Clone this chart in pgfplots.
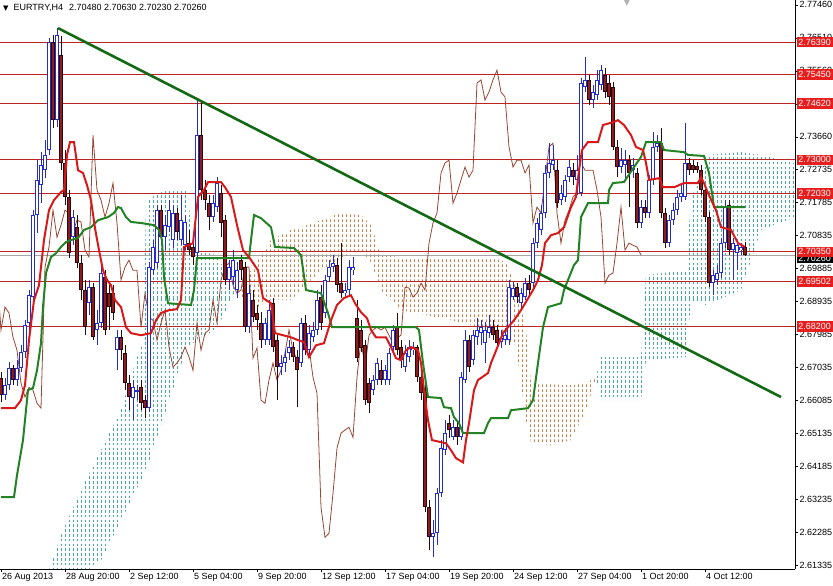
\documentclass[border=0pt]{standalone}
\usepackage{fontspec}
\setmainfont{Liberation Sans}
\newfontfamily\dejavu{DejaVu Sans}
\usepackage{pgfplots}
\pgfplotsset{compat=1.18}
\usepackage{pgfplotstable}
\usetikzlibrary{patterns.meta}

\definecolor{bull}{RGB}{35,45,200}
\definecolor{bearedge}{RGB}{45,8,8}
\definecolor{bearfill}{RGB}{140,28,32}
\definecolor{tenkan}{RGB}{215,25,25}
\definecolor{kijun}{RGB}{35,130,35}
\definecolor{chikou}{RGB}{150,70,50}
\definecolor{kteal}{RGB}{70,170,160}
\definecolor{korange}{RGB}{205,125,65}
\definecolor{lvl}{RGB}{190,35,35}
\definecolor{labred}{RGB}{230,30,30}
\definecolor{trend}{RGB}{20,105,20}

\tikzdeclarepattern{name=kumoorange, type=colored,
  bounding box={(0,0) and (3.5pt,4.8pt)}, tile size={(3.5pt,4.8pt)},
  code={\fill[korange] (0,0) rectangle (1pt,2.6pt);}}

\pgfplotstableread{
i o h l c
0 2.6671 2.6689 2.6602 2.6622
1 2.6622 2.6671 2.6608 2.6651
2 2.6651 2.6717 2.6637 2.6700
3 2.6700 2.6709 2.6651 2.6666
4 2.6666 2.6723 2.6648 2.6700
5 2.6700 2.6766 2.6689 2.6746
6 2.6746 2.6838 2.6729 2.6824
7 2.6830 2.6925 2.6810 2.6910
8 2.6905 2.7155 2.6896 2.7141
9 2.7141 2.7299 2.7089 2.7242
10 2.7227 2.7322 2.7175 2.7285
11 2.7270 2.7357 2.7247 2.7314
12 2.7328 2.7651 2.7314 2.7639
13 2.7639 2.7659 2.7391 2.7414
14 2.7414 2.7679 2.7394 2.7659
15 2.7602 2.7656 2.7270 2.7291
16 2.7291 2.7328 2.7170 2.7193
17 2.7193 2.7213 2.7017 2.7031
18 2.7077 2.7155 2.7054 2.7135
19 2.7106 2.7141 2.6988 2.7003
20 2.7003 2.7026 2.6896 2.6925
21 2.6925 2.6954 2.6795 2.6818
22 2.6887 2.6954 2.6853 2.6933
23 2.6933 2.6945 2.6781 2.6789
24 2.6810 2.6867 2.6766 2.6830
25 2.6830 2.6997 2.6815 2.6974
26 2.6962 2.6982 2.6795 2.6810
27 2.6916 2.6939 2.6810 2.6876
28 2.6916 2.6939 2.6838 2.6859
29 2.6752 2.6810 2.6694 2.6789
30 2.6789 2.6810 2.6723 2.6752
31 2.6743 2.6766 2.6637 2.6657
32 2.6657 2.6680 2.6579 2.6617
33 2.6614 2.6666 2.6550 2.6645
34 2.6631 2.6651 2.6608 2.6637
35 2.6645 2.6666 2.6579 2.6599
36 2.6608 2.6622 2.6556 2.6585
37 2.6585 2.7005 2.6573 2.6991
38 2.6982 2.7069 2.6968 2.7049
39 2.7003 2.7170 2.6988 2.7155
40 2.7155 2.7170 2.7054 2.7077
41 2.7077 2.7141 2.7040 2.7112
42 2.7106 2.7184 2.7092 2.7155
43 2.7069 2.7170 2.7046 2.7147
44 2.7147 2.7161 2.7069 2.7092
45 2.7069 2.7198 2.7054 2.7126
46 2.7054 2.7141 2.7040 2.7121
47 2.7060 2.7098 2.7026 2.7040
48 2.7049 2.7069 2.6997 2.7020
49 2.7031 2.7478 2.7017 2.7371
50 2.7371 2.7472 2.7184 2.7213
51 2.7213 2.7242 2.7155 2.7184
52 2.7175 2.7198 2.7098 2.7135
53 2.7135 2.7198 2.7121 2.7175
54 2.7164 2.7250 2.7149 2.7233
55 2.7204 2.7227 2.7077 2.7118
56 2.7126 2.7141 2.6939 2.6954
57 2.6954 2.7011 2.6925 2.6991
58 2.6962 2.7040 2.6939 2.7011
59 2.6925 2.7005 2.6902 2.6982
60 2.7011 2.7026 2.6954 2.6982
61 2.6991 2.7005 2.6804 2.6818
62 2.6818 2.6939 2.6801 2.6916
63 2.6896 2.6925 2.6833 2.6847
64 2.6859 2.6882 2.6810 2.6838
65 2.6830 2.6861 2.6758 2.6781
66 2.6781 2.6844 2.6766 2.6830
67 2.6781 2.6896 2.6766 2.6867
68 2.6887 2.6902 2.6746 2.6761
69 2.6781 2.6795 2.6608 2.6703
70 2.6703 2.6738 2.6680 2.6715
71 2.6715 2.6752 2.6689 2.6732
72 2.6743 2.6781 2.6723 2.6761
73 2.6761 2.6775 2.6717 2.6732
74 2.6732 2.6752 2.6588 2.6694
75 2.6715 2.6844 2.6703 2.6830
76 2.6830 2.6853 2.6738 2.6752
77 2.6752 2.6824 2.6738 2.6801
78 2.6789 2.6833 2.6775 2.6810
79 2.6810 2.6925 2.6795 2.6896
80 2.6905 2.6939 2.6810 2.6830
81 2.6859 2.6968 2.6844 2.6954
82 2.6962 2.7011 2.6948 2.6991
83 2.6991 2.7026 2.6977 2.7003
84 2.6997 2.7017 2.6919 2.6939
85 2.6945 2.7060 2.6902 2.6916
86 2.6916 2.6945 2.6902 2.6925
87 2.6925 2.7011 2.6910 2.6991
88 2.6982 2.7020 2.6968 2.6991
89 2.6844 2.6896 2.6717 2.6729
90 2.6810 2.6838 2.6746 2.6758
91 2.6766 2.6781 2.6594 2.6608
92 2.6657 2.6671 2.6571 2.6599
93 2.6637 2.6680 2.6622 2.6666
94 2.6666 2.6729 2.6651 2.6715
95 2.6694 2.6723 2.6651 2.6666
96 2.6666 2.6709 2.6651 2.6694
97 2.6666 2.6758 2.6651 2.6743
98 2.6761 2.6824 2.6746 2.6810
99 2.6818 2.6859 2.6738 2.6752
100 2.6761 2.6781 2.6700 2.6723
101 2.6703 2.6766 2.6689 2.6743
102 2.6732 2.6781 2.6717 2.6761
103 2.6752 2.6775 2.6738 2.6761
104 2.6761 2.6766 2.6660 2.6674
105 2.6674 2.6694 2.6608 2.6628
106 2.6637 2.6651 2.6285 2.6300
107 2.6300 2.6320 2.6176 2.6213
108 2.6213 2.6262 2.6156 2.6225
109 2.6225 2.6355 2.6190 2.6340
110 2.6340 2.6493 2.6329 2.6470
111 2.6464 2.6550 2.6450 2.6513
112 2.6542 2.6565 2.6499 2.6522
113 2.6501 2.6550 2.6493 2.6530
114 2.6530 2.6550 2.6478 2.6501
115 2.6501 2.6689 2.6493 2.6674
116 2.6666 2.6810 2.6657 2.6781
117 2.6781 2.6795 2.6689 2.6703
118 2.6723 2.6810 2.6709 2.6795
119 2.6789 2.6844 2.6766 2.6810
120 2.6801 2.6838 2.6766 2.6818
121 2.6772 2.6833 2.6715 2.6810
122 2.6801 2.6853 2.6787 2.6818
123 2.6818 2.6838 2.6781 2.6795
124 2.6810 2.6824 2.6758 2.6772
125 2.6775 2.6810 2.6758 2.6787
126 2.6781 2.6815 2.6766 2.6795
127 2.6781 2.6954 2.6766 2.6933
128 2.6905 2.6948 2.6896 2.6931
129 2.6933 2.6945 2.6887 2.6905
130 2.6887 2.6931 2.6873 2.6916
131 2.6905 2.6959 2.6896 2.6945
132 2.6945 2.6968 2.6910 2.6925
133 2.6945 2.7075 2.6931 2.7060
134 2.7060 2.7132 2.7046 2.7118
135 2.7098 2.7170 2.7083 2.7147
136 2.7147 2.7285 2.7132 2.7262
137 2.7262 2.7348 2.7247 2.7291
138 2.7285 2.7342 2.7270 2.7299
139 2.7270 2.7299 2.7161 2.7175
140 2.7184 2.7227 2.7170 2.7204
141 2.7193 2.7256 2.7178 2.7242
142 2.7250 2.7299 2.7236 2.7279
143 2.7270 2.7291 2.7227 2.7250
144 2.7242 2.7314 2.7198 2.7270
145 2.7204 2.7535 2.7196 2.7521
146 2.7509 2.7596 2.7495 2.7530
147 2.7530 2.7544 2.7458 2.7472
148 2.7472 2.7515 2.7449 2.7495
149 2.7486 2.7558 2.7472 2.7530
150 2.7515 2.7573 2.7501 2.7558
151 2.7544 2.7564 2.7478 2.7495
152 2.7521 2.7544 2.7458 2.7481
153 2.7509 2.7524 2.7328 2.7337
154 2.7337 2.7357 2.7250 2.7279
155 2.7279 2.7334 2.7262 2.7299
156 2.7285 2.7328 2.7242 2.7299
157 2.7299 2.7314 2.7164 2.7262
158 2.7270 2.7305 2.7247 2.7285
159 2.7262 2.7276 2.7103 2.7118
160 2.7118 2.7184 2.7103 2.7164
161 2.7164 2.7184 2.7132 2.7147
162 2.7147 2.7256 2.7132 2.7242
163 2.7242 2.7380 2.7227 2.7337
164 2.7337 2.7371 2.7322 2.7348
165 2.7348 2.7391 2.7132 2.7147
166 2.7147 2.7161 2.7046 2.7060
167 2.7060 2.7141 2.7049 2.7126
168 2.7126 2.7175 2.7112 2.7155
169 2.7155 2.7213 2.7141 2.7193
170 2.7193 2.7227 2.7178 2.7204
171 2.7193 2.7406 2.7184 2.7291
172 2.7291 2.7305 2.7256 2.7270
173 2.7285 2.7299 2.7262 2.7270
174 2.7282 2.7293 2.7262 2.7270
175 2.7270 2.7285 2.7198 2.7213
176 2.7213 2.7227 2.7121 2.7135
177 2.7135 2.7149 2.6933 2.6945
178 2.6945 2.6982 2.6910 2.6968
179 2.6954 2.6997 2.6939 2.6974
180 2.6974 2.7075 2.6959 2.7060
181 2.7060 2.7184 2.7046 2.7164
182 2.7170 2.7184 2.7026 2.7040
183 2.7040 2.7075 2.6954 2.7060
184 2.7031 2.7063 2.6982 2.7054
185 2.7040 2.7060 2.7026 2.7049
186 2.7048 2.7063 2.7023 2.7026
}\candles

\pgfplotsset{
  candlebar/.style={forget plot, draw=none, mark=none,
    error bars/.cd, y dir=both, y explicit, error mark=none},
  lvline/.style={forget plot, lvl, line width=0.8pt},
}

\begin{document}
\begin{tikzpicture}[font=\fontsize{9}{10}\selectfont]
\begin{axis}[name=main, at={(0,0)}, anchor=south west,
  scale only axis, width=795pt, height=569pt,
  xmin=-0.25, xmax=198.5, ymin=2.6122, ymax=2.7760,
  axis x line*=bottom, axis y line*=right,
  axis line style={black, line width=0.8pt},
  tick align=outside, major tick length=3pt,
  tick style={black, line width=0.6pt},
  xtick={0,16,...,176},
  xticklabels={26 Aug 2013, 28 Aug 20:00, 2 Sep 12:00, 5 Sep 04:00, 9 Sep 20:00, 12 Sep 12:00, 17 Sep 04:00, 19 Sep 20:00, 24 Sep 12:00, 27 Sep 04:00, 1 Oct 20:00, 4 Oct 12:00},
  xticklabel style={anchor=north west, inner xsep=1pt, inner ysep=1.5pt, font=\fontsize{9}{10}\selectfont},
  ytick={2.61335,2.62285,2.63235,2.64185,2.65135,2.66085,2.67035,2.67985,2.68935,2.69885,2.70835,2.71785,2.72735,2.73660,2.74610,2.75560,2.76510,2.77460},
  yticklabels={2.61335,2.62285,2.63235,2.64185,2.65135,2.66085,2.67035,2.67985,2.68935,2.69885,2.70835,2.71785,2.72735,2.73660,2.74610,2.75560,2.76510,2.77460},
  yticklabel style={anchor=west, inner xsep=1.5pt, font=\fontsize{9}{10}\selectfont},
  clip=true]

% Kumo cloud, bearish part
\addplot[forget plot, draw=none, pattern=kumoorange] coordinates {(59,2.6925) (62.5,2.6982) (67.5,2.7069) (72.5,2.7098) (75,2.7106) (80,2.7126) (85,2.7147) (90,2.7141) (92.5,2.7112) (95,2.7026) (100,2.7020) (122.5,2.7020) (126.25,2.7005) (128.75,2.6939) (131.25,2.6810) (132.5,2.6657) (142.5,2.6651) (146.25,2.6657) (148.75,2.6674) (146.25,2.6579) (142.5,2.6493) (137.5,2.6478) (132.5,2.6487) (131.25,2.6550) (128.75,2.6766) (126.25,2.6781) (122.5,2.6810) (112.5,2.6838) (100,2.6867) (95,2.6925) (92.5,2.7005) (90,2.7040) (85,2.7017) (80,2.6982) (75,2.6925) (72.5,2.6896) (67.5,2.6896) (62.5,2.6867)};

% Kumo cloud, bullish part: dotted columns clipped to the cloud outline
\begin{scope}
\clip (axis cs:12,2.6118) -- (axis cs:15,2.6219) -- (axis cs:20,2.6349) -- (axis cs:25,2.6464) -- (axis cs:30,2.6579) -- (axis cs:33.75,2.6723) -- (axis cs:35.75,2.6781) -- (axis cs:36.25,2.7184) -- (axis cs:41.25,2.7213) -- (axis cs:46.25,2.7213) -- (axis cs:48.75,2.7040) -- (axis cs:53.75,2.7026) -- (axis cs:57.5,2.6954) -- (axis cs:59,2.6925) -- (axis cs:57.5,2.6896) -- (axis cs:53.75,2.6810) -- (axis cs:48.75,2.6781) -- (axis cs:46.25,2.6752) -- (axis cs:41.25,2.6579) -- (axis cs:36.25,2.6406) -- (axis cs:33.75,2.6349) -- (axis cs:30,2.6262) -- (axis cs:25,2.6147) -- (axis cs:20,2.6104) -- (axis cs:15,2.6104) -- cycle
  (axis cs:148.75,2.6674) -- (axis cs:150,2.6732) -- (axis cs:160,2.6732) -- (axis cs:161.25,2.6968) -- (axis cs:171.25,2.6982) -- (axis cs:172.5,2.7184) -- (axis cs:176.25,2.7314) -- (axis cs:185,2.7322) -- (axis cs:190,2.7314) -- (axis cs:200,2.7285) -- (axis cs:200,2.7141) -- (axis cs:190,2.7098) -- (axis cs:185,2.6925) -- (axis cs:176.25,2.6882) -- (axis cs:172.5,2.6896) -- (axis cs:171.25,2.6732) -- (axis cs:161.25,2.6723) -- (axis cs:160,2.6608) -- (axis cs:150,2.6608) -- cycle;
\addplot[forget plot, draw=none, mark=none, error bars/.cd, y dir=both, y explicit, error mark=none,
  error bar style={line width=1pt, color=kteal, dash pattern=on 2.6pt off 2.2pt}]
  table[x=x, y=y, y error=e] {
x y e
12 2.69 0.1
13 2.69 0.1
14 2.69 0.1
15 2.69 0.1
16 2.69 0.1
17 2.69 0.1
18 2.69 0.1
19 2.69 0.1
20 2.69 0.1
21 2.69 0.1
22 2.69 0.1
23 2.69 0.1
24 2.69 0.1
25 2.69 0.1
26 2.69 0.1
27 2.69 0.1
28 2.69 0.1
29 2.69 0.1
30 2.69 0.1
31 2.69 0.1
32 2.69 0.1
33 2.69 0.1
34 2.69 0.1
35 2.69 0.1
36 2.69 0.1
37 2.69 0.1
38 2.69 0.1
39 2.69 0.1
40 2.69 0.1
41 2.69 0.1
42 2.69 0.1
43 2.69 0.1
44 2.69 0.1
45 2.69 0.1
46 2.69 0.1
47 2.69 0.1
48 2.69 0.1
49 2.69 0.1
50 2.69 0.1
51 2.69 0.1
52 2.69 0.1
53 2.69 0.1
54 2.69 0.1
55 2.69 0.1
56 2.69 0.1
57 2.69 0.1
58 2.69 0.1
149 2.69 0.1
150 2.69 0.1
151 2.69 0.1
152 2.69 0.1
153 2.69 0.1
154 2.69 0.1
155 2.69 0.1
156 2.69 0.1
157 2.69 0.1
158 2.69 0.1
159 2.69 0.1
160 2.69 0.1
161 2.69 0.1
162 2.69 0.1
163 2.69 0.1
164 2.69 0.1
165 2.69 0.1
166 2.69 0.1
167 2.69 0.1
168 2.69 0.1
169 2.69 0.1
170 2.69 0.1
171 2.69 0.1
172 2.69 0.1
173 2.69 0.1
174 2.69 0.1
175 2.69 0.1
176 2.69 0.1
177 2.69 0.1
178 2.69 0.1
179 2.69 0.1
180 2.69 0.1
181 2.69 0.1
182 2.69 0.1
183 2.69 0.1
184 2.69 0.1
185 2.69 0.1
186 2.69 0.1
187 2.69 0.1
188 2.69 0.1
189 2.69 0.1
190 2.69 0.1
191 2.69 0.1
192 2.69 0.1
193 2.69 0.1
194 2.69 0.1
195 2.69 0.1
196 2.69 0.1
197 2.69 0.1
198 2.69 0.1
};
\end{scope}

% horizontal levels
\addplot[lvline] coordinates {(-5,2.7639) (205,2.7639)};
\addplot[lvline] coordinates {(-5,2.7545) (205,2.7545)};
\addplot[lvline] coordinates {(-5,2.7462) (205,2.7462)};
\addplot[lvline] coordinates {(-5,2.7300) (205,2.7300)};
\addplot[lvline] coordinates {(-5,2.7203) (205,2.7203)};
\addplot[lvline] coordinates {(-5,2.7035) (205,2.7035)};
\addplot[lvline] coordinates {(-5,2.6950) (205,2.6950)};
\addplot[lvline] coordinates {(-5,2.6820) (205,2.6820)};
\addplot[forget plot, gray!70, line width=0.7pt] coordinates {(-5,2.7026) (205,2.7026)};

% Chikou span (close shifted 26 bars back)
\addplot[forget plot, chikou, line width=0.8pt] table[x expr=\thisrow{i}-26, y=c] {\candles};

% wicks
\addplot[candlebar, error bar style={line width=0.9pt, color=bull}]
  table[x=i, y expr={(\thisrow{h}+\thisrow{l})/2}, y error expr={(\thisrow{h}-\thisrow{l})/2}, restrict expr to domain={\thisrow{c}-\thisrow{o}}{0:1}] {\candles};
\addplot[candlebar, error bar style={line width=0.9pt, color=bearedge}]
  table[x=i, y expr={(\thisrow{h}+\thisrow{l})/2}, y error expr={(\thisrow{h}-\thisrow{l})/2}, restrict expr to domain={\thisrow{o}-\thisrow{c}}{0.00005:1}] {\candles};
% bodies
\addplot[candlebar, error bar style={line width=3.2pt, color=bull}]
  table[x=i, y expr={(\thisrow{o}+\thisrow{c})/2}, y error expr={max(abs(\thisrow{o}-\thisrow{c})/2,0.00015)}, restrict expr to domain={\thisrow{c}-\thisrow{o}}{0:1}] {\candles};
\addplot[candlebar, error bar style={line width=1.2pt, color=white}]
  table[x=i, y expr={(\thisrow{o}+\thisrow{c})/2}, y error expr={max(abs(\thisrow{o}-\thisrow{c})/2-0.0003,0)}, restrict expr to domain={\thisrow{c}-\thisrow{o}}{0:1}] {\candles};
\addplot[candlebar, error bar style={line width=3.2pt, color=bearedge}]
  table[x=i, y expr={(\thisrow{o}+\thisrow{c})/2}, y error expr={max(abs(\thisrow{o}-\thisrow{c})/2,0.00015)}, restrict expr to domain={\thisrow{o}-\thisrow{c}}{0.00005:1}] {\candles};
\addplot[candlebar, error bar style={line width=1.2pt, color=bearfill}]
  table[x=i, y expr={(\thisrow{o}+\thisrow{c})/2}, y error expr={max(abs(\thisrow{o}-\thisrow{c})/2-0.0003,0)}, restrict expr to domain={\thisrow{o}-\thisrow{c}}{0.00005:1}] {\candles};

% Kijun-sen
\addplot[forget plot, kijun, line width=2pt] coordinates {(0,2.6329) (3.25,2.6329) (4,2.6392) (5.5,2.6493) (6.75,2.6637) (8,2.6643) (9,2.6694) (10,2.6772) (10.5,2.6876) (11.25,2.6974) (12.5,2.7020) (13.75,2.7031) (15,2.7049) (16.25,2.7063) (17.5,2.7069) (19.25,2.7075) (20.75,2.7098) (22.5,2.7106) (24.25,2.7126) (26.75,2.7135) (28.25,2.7147) (29.25,2.7164) (30,2.7161) (31.25,2.7135) (32.5,2.7121) (35,2.7118) (38.25,2.7112) (39.5,2.7098) (40.25,2.7069) (40.75,2.6962) (41.75,2.6887) (47.5,2.6882) (48.25,2.6925) (49,2.7017) (62,2.7017) (62.5,2.7069) (63.25,2.7141) (65,2.7132) (67.5,2.7106) (68.5,2.7049) (73.25,2.7046) (75,2.7026) (76.25,2.6925) (80,2.6916) (81.75,2.6859) (82.75,2.6818) (103.75,2.6818) (104.5,2.6810) (105.5,2.6715) (106.75,2.6617) (110,2.6614) (110.75,2.6588) (112.5,2.6585) (113.25,2.6559) (114.5,2.6542) (115.5,2.6513) (120.75,2.6513) (121.75,2.6542) (122.5,2.6556) (126.75,2.6556) (127.5,2.6579) (131.75,2.6585) (133,2.6608) (134.25,2.6715) (135.5,2.6818) (136.75,2.6876) (140,2.6887) (140.75,2.6925) (141.75,2.6954) (143.25,2.6997) (144.25,2.7011) (145,2.7135) (146.75,2.7175) (151.75,2.7175) (152,2.7213) (153,2.7233) (155.75,2.7236) (158.25,2.7279) (160,2.7308) (161.25,2.7351) (165,2.7351) (165.75,2.7328) (170.75,2.7322) (171.75,2.7314) (175.75,2.7311) (177,2.7262) (178.25,2.7164) (186,2.7164)};

% Tenkan-sen
\addplot[forget plot, tenkan, line width=2pt] coordinates {(0,2.6585) (3.5,2.6585) (5,2.6608) (6,2.6651) (7,2.6781) (8.25,2.6896) (9.5,2.6939) (10.75,2.7069) (12,2.7155) (13.25,2.7184) (15,2.7207) (15.75,2.7213) (16.5,2.7314) (17.25,2.7351) (18.25,2.7351) (19.25,2.7270) (20.5,2.7262) (21.5,2.7227) (22.5,2.7184) (23.5,2.7103) (24.5,2.7040) (25.5,2.6982) (26.5,2.6954) (27.5,2.6939) (28.5,2.6896) (30,2.6876) (31.25,2.6818) (32.5,2.6801) (35,2.6795) (37.5,2.6801) (38.75,2.6838) (40,2.6859) (42,2.6867) (44,2.6870) (45,2.6896) (45.75,2.7049) (48,2.7060) (49.25,2.7193) (50.75,2.7213) (51.75,2.7236) (55,2.7236) (56,2.7221) (57.5,2.7193) (59,2.7112) (60.5,2.7040) (62,2.7020) (64.25,2.6982) (65.5,2.6902) (67.5,2.6887) (68.5,2.6801) (72.5,2.6789) (74.25,2.6781) (75.75,2.6775) (77,2.6732) (78.75,2.6766) (80.75,2.6772) (82.5,2.6838) (84,2.6882) (85.75,2.6902) (87.5,2.6910) (88.5,2.6887) (90,2.6861) (91.5,2.6844) (92.5,2.6810) (93.75,2.6789) (96.25,2.6789) (97.5,2.6761) (98.75,2.6729) (100,2.6723) (101.25,2.6752) (102.5,2.6761) (104.25,2.6752) (105,2.6715) (105.75,2.6637) (106.75,2.6550) (107.75,2.6493) (111.25,2.6484) (112.5,2.6464) (113.75,2.6441) (115.5,2.6429) (116.25,2.6493) (117,2.6542) (118.25,2.6637) (119.25,2.6666) (121.75,2.6686) (122.5,2.6715) (123.5,2.6743) (124.5,2.6772) (125.5,2.6801) (126.75,2.6818) (128.25,2.6838) (130,2.6867) (131.5,2.6896) (133,2.6925) (134.25,2.6954) (135.25,2.6997) (136,2.7060) (137.5,2.7083) (139.25,2.7089) (140.75,2.7106) (142.5,2.7164) (143.75,2.7193) (144.5,2.7270) (145.25,2.7328) (146.75,2.7351) (149.25,2.7351) (150.5,2.7400) (153.25,2.7409) (154.25,2.7414) (155.75,2.7400) (157.5,2.7371) (158.75,2.7337) (160.5,2.7328) (161.25,2.7291) (162,2.7242) (164.5,2.7247) (165.5,2.7221) (168.25,2.7221) (170.75,2.7233) (174.25,2.7233) (175,2.7250) (175.75,2.7233) (176.75,2.7204) (178.75,2.7155) (180,2.7106) (182.5,2.7098) (184.25,2.7060) (186,2.7049)};

% trend line
\addplot[forget plot, trend, line width=2.6pt] coordinates {(14.25,2.7679) (195,2.6617)};

\coordinate (lA) at (axis cs:0,2.7639);
\coordinate (lB) at (axis cs:0,2.7545);
\coordinate (lC) at (axis cs:0,2.7462);
\coordinate (lD) at (axis cs:0,2.7300);
\coordinate (lE) at (axis cs:0,2.7203);
\coordinate (lF) at (axis cs:0,2.7035);
\coordinate (lG) at (axis cs:0,2.6950);
\coordinate (lH) at (axis cs:0,2.6820);
\coordinate (lBid) at (axis cs:0,2.7026);
\end{axis}

\tikzset{redlab/.style={anchor=west, fill=labred, text=white, inner xsep=1pt, inner ysep=0pt,
   minimum height=10.5pt, minimum width=36pt, font=\fontsize{9}{10}\selectfont}}
\path (main.east |- lBid) ++(1.5pt,-3pt) node[redlab, fill=black] {2.70260};
\path (main.east |- lA) ++(1.5pt,0) node[redlab] {2.76390};
\path (main.east |- lB) ++(1.5pt,0) node[redlab] {2.75450};
\path (main.east |- lC) ++(1.5pt,0) node[redlab] {2.74620};
\path (main.east |- lD) ++(1.5pt,0) node[redlab] {2.73000};
\path (main.east |- lE) ++(1.5pt,0) node[redlab] {2.72030};
\path (main.east |- lF) ++(1.5pt,0) node[redlab] {2.70350};
\path (main.east |- lG) ++(1.5pt,0) node[redlab] {2.69502};
\path (main.east |- lH) ++(1.5pt,0) node[redlab] {2.68200};

\node[anchor=west, inner sep=0pt, font=\fontsize{9}{10}\selectfont] at (3pt,561pt)
  {{\dejavu\fontsize{7}{8}\selectfont ▼}\hspace{5pt}EURTRY,H4\hspace{6pt}2.70480 2.70630 2.70230 2.70260};
\node[anchor=north, inner sep=0pt, text=gray!60, font=\dejavu\fontsize{8}{8}\selectfont] at (627pt,569pt) {▼};

\pgfresetboundingbox
\path[use as bounding box] (0,-17pt) rectangle (833pt,569pt);
\end{tikzpicture}
\end{document}
